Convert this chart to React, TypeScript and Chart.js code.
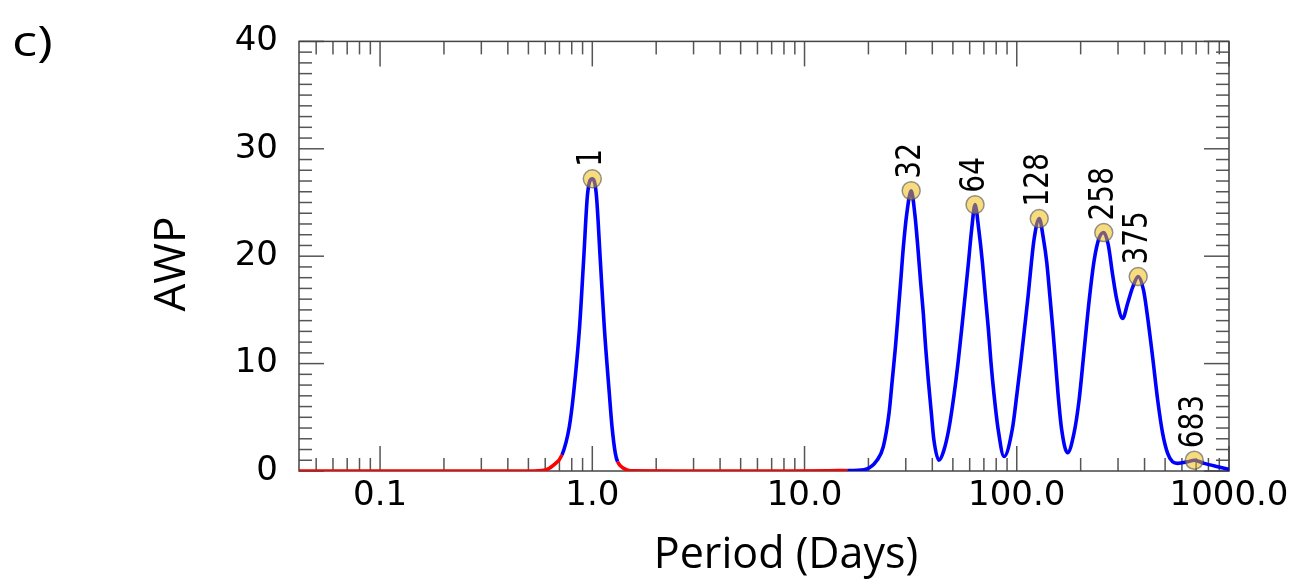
import React, { useEffect, useRef } from "react";
import { Chart, registerables } from "chart.js";

Chart.register(...registerables);

// ---- data ----
const periods = [
  0.0415, 0.1, 0.3, 0.5, 0.6, 0.657, 0.72, 0.779, 0.816, 0.871, 0.91, 0.95, 1.0,
  1.044, 1.091, 1.139, 1.203, 1.239, 1.284, 1.316, 1.405, 1.51, 3, 8, 13, 15.9,
  19.05, 22.0, 23.5, 25.0, 25.9, 26.8, 27.6, 28.4, 29.2, 30.3, 31.8,
  33.1, 34.2, 35.2, 36.3, 37.2, 38.3, 39.6, 40.7, 43.0,
  45.3, 47.9, 50.6, 52.9, 55.0, 57.1, 59.2, 61.3, 63.6,
  66.2, 68.9, 71.1, 73.5, 75.6, 78.2, 81.6, 87.1,
  95.4, 100, 104.4, 108.7, 113.1, 117.2, 120.7, 127.6,
  133.6, 138.5, 143.2, 147.9, 152.3, 156.7, 162.5, 173.4,
  186, 196.6, 207.6, 219.4, 231.5, 244.4, 257, 269.6,
  282.8, 296.3, 315.4, 332.8, 351.5, 373.4, 396, 413.7, 436.7, 461.3, 486.8, 514,
  542, 572.6, 638, 686, 764, 885, 1000,
];
const awp = [
  0, 0, 0, 0, 0.1, 0.55, 1.5, 4.1, 7.2, 13.4, 19.6, 25.8, 27.2,
  25.8, 19.6, 13.4, 7.2, 4.1, 1.64, 0.86, 0.25, 0.02, 0, 0, 0.02, 0.05,
  0.12, 1.02, 2.26, 5.35, 8.45, 11.5, 14.6, 17.7, 20.8, 23.9, 26.1,
  23.9, 20.8, 17.7, 14.6, 11.5, 8.45, 5.35, 2.88, 1.0,
  1.9, 3.96, 7.05, 10.1, 13.2, 16.3, 19.4, 22.5, 24.8,
  22.5, 19.4, 16.3, 13.2, 10.1, 7.05, 3.96, 1.35,
  3.96, 7.05, 10.1, 13.2, 16.3, 19.4, 21.6, 23.5,
  21.6, 19.4, 16.3, 13.2, 10.1, 7.05, 3.96, 1.7,
  3.5, 6.6, 11.2, 15.9, 19.6, 21.7, 22.2, 21.1,
  18.3, 15.9, 14.2, 15.6, 17.1, 18.1, 16.8, 14.3, 10.6, 6.6, 3.5, 1.64,
  0.86, 0.71, 0.86, 1.0, 0.71, 0.4, 0.16,
];
// period ranges drawn in red (not significant)
const noiseRanges = [
  [0.0415, 0.72],
  [1.316, 15.9],
];

const peakPeriods = [1.0, 31.8, 63.6, 127.6, 257, 373.4, 686];
const peakAWP = [27.2, 26.1, 24.8, 23.5, 22.2, 18.1, 1.0];
const peakLabels = ["1", "32", "64", "128", "258", "375", "683"];

const xTickValues = [0.1, 1, 10, 100, 1000];
const xTickLabels = ["0.1", "1.0", "10.0", "100.0", "1000.0"];
const yTickValues = [0, 10, 20, 30, 40];

const X_MIN = 0.0415;
const X_MAX = 1000;
const Y_MIN = 0;
const Y_MAX = 40;

const BLUE = "#0000ff";
const RED = "#ff0000";

const inNoise = (p: number) => noiseRanges.some(([a, b]) => p >= a && p <= b);

const decorPlugin = {
  id: "decor",
  beforeDatasetsDraw(chart: any) {
    const { ctx, chartArea, scales } = chart;
    const { left, right, top, bottom } = chartArea;
    const xs = scales.x;
    const ys = scales.y;
    ctx.save();
    ctx.strokeStyle = "#555";
    ctx.lineWidth = 1.5;
    const line = (x1: number, y1: number, x2: number, y2: number) => {
      ctx.beginPath();
      ctx.moveTo(x1, y1);
      ctx.lineTo(x2, y2);
      ctx.stroke();
    };
    xTickValues.forEach((v) => {
      const px = xs.getPixelForValue(v);
      line(px, bottom, px, bottom - 25);
      line(px, top, px, top + 25);
    });
    [0.01, 0.1, 1, 10, 100].forEach((d) => {
      for (let m = 2; m <= 9; m++) {
        const v = m * d;
        if (v < X_MIN || v > X_MAX) continue;
        const px = xs.getPixelForValue(v);
        line(px, bottom, px, bottom - 13);
        line(px, top, px, top + 13);
      }
    });
    for (let v = Y_MIN; v <= Y_MAX; v++) {
      const py = ys.getPixelForValue(v);
      const len = v % 10 === 0 ? 25 : 13;
      line(left, py, left + len, py);
      line(right, py, right - len, py);
    }
    ctx.strokeStyle = "#444";
    ctx.strokeRect(left, top, right - left, bottom - top);
    ctx.restore();
  },
  afterDatasetsDraw(chart: any) {
    const { ctx, scales } = chart;
    ctx.save();
    ctx.fillStyle = "#000";
    ctx.font = "28px 'DejaVu Sans'";
    ctx.textAlign = "left";
    ctx.textBaseline = "middle";
    peakPeriods.forEach((p, i) => {
      const x = scales.x.getPixelForValue(p);
      const y = scales.y.getPixelForValue(peakAWP[i]);
      ctx.save();
      ctx.translate(x, y - 12);
      ctx.rotate(-Math.PI / 2);
      ctx.scale(1, 1.2);
      ctx.fillText(peakLabels[i], 0, 0);
      ctx.restore();
    });
    ctx.restore();
  },
  afterDraw(chart: any) {
    const { ctx } = chart;
    ctx.save();
    ctx.fillStyle = "#000";
    ctx.textBaseline = "alphabetic";
    ctx.textAlign = "center";
    ctx.font = "43px 'Open Sans'";
    ctx.fillText("Period (Days)", 786, 568);
    ctx.save();
    ctx.translate(172, 264);
    ctx.rotate(-Math.PI / 2);
    ctx.textBaseline = "middle";
    ctx.font = "44px 'Open Sans'";
    ctx.fillText("AWP", 0, 0);
    ctx.restore();
    ctx.save();
    ctx.translate(12, 56);
    ctx.scale(1.25, 1);
    ctx.textAlign = "left";
    ctx.font = "42px 'Open Sans'";
    ctx.fillText("c)", 0, 0);
    ctx.restore();
    ctx.restore();
  },
};

export default function App() {
  const canvasRef = useRef<HTMLCanvasElement | null>(null);

  useEffect(() => {
    const canvas = canvasRef.current;
    if (!canvas) return;
    const curve = periods.map((p, i) => ({ x: p, y: awp[i] }));
    const peaks = peakPeriods.map((p, i) => ({ x: p, y: peakAWP[i] }));

    const chart = new Chart(canvas, {
      type: "line",
      data: {
        datasets: [
          {
            label: "peaks",
            data: peaks,
            showLine: false,
            order: 0,
            pointRadius: 9,
            pointHoverRadius: 9,
            pointBackgroundColor: "rgba(240,185,0,0.5)",
            pointBorderColor: "rgba(80,80,80,0.6)",
            pointBorderWidth: 1.5,
          },
          {
            label: "AWP",
            data: curve,
            order: 1,
            borderColor: BLUE,
            borderWidth: 3.6,
            pointRadius: 0,
            pointHoverRadius: 0,
            fill: false,
            cubicInterpolationMode: "monotone",
            segment: {
              borderColor: (ctx: any) => {
                const mid = Math.sqrt(ctx.p0.parsed.x * ctx.p1.parsed.x);
                return inNoise(mid) ? RED : BLUE;
              },
            },
          },
        ],
      },
      options: {
        responsive: false,
        animation: false,
        events: [],
        layout: { padding: { top: 40, right: 75, bottom: 0, left: 0 } },
        plugins: {
          legend: { display: false },
          tooltip: { enabled: false },
          title: { display: false },
        },
        scales: {
          x: {
            type: "logarithmic",
            min: X_MIN,
            max: X_MAX,
            grid: { display: false, drawTicks: false },
            border: { display: false },
            ticks: {
              color: "#000",
              font: { family: "'DejaVu Sans'", size: 34 },
              padding: 5,
              maxRotation: 0,
              autoSkip: false,
              callback: (v: any) => {
                const i = xTickValues.indexOf(Number(v));
                return i >= 0 ? xTickLabels[i] : "";
              },
            },
            afterBuildTicks: (s: any) => {
              s.ticks = xTickValues.map((v) => ({ value: v }));
            },
            afterFit: (s: any) => {
              s.height = 114;
            },
          },
          y: {
            type: "linear",
            min: Y_MIN,
            max: Y_MAX,
            grid: { display: false, drawTicks: false },
            border: { display: false },
            ticks: {
              color: "#000",
              font: { family: "'DejaVu Sans'", size: 34 },
              padding: 21,
              stepSize: 10,
            },
            afterBuildTicks: (s: any) => {
              s.ticks = yTickValues.map((v) => ({ value: v }));
            },
            afterFit: (s: any) => {
              s.width = 299;
            },
          },
        },
      },
      plugins: [decorPlugin],
    });
    return () => chart.destroy();
  }, []);

  return (
    <div style={{ position: "absolute", left: 0, top: 0, width: 1304, height: 585, background: "#fff" }}>
      <canvas ref={canvasRef} width={1304} height={585} style={{ display: "block" }} />
    </div>
  );
}
